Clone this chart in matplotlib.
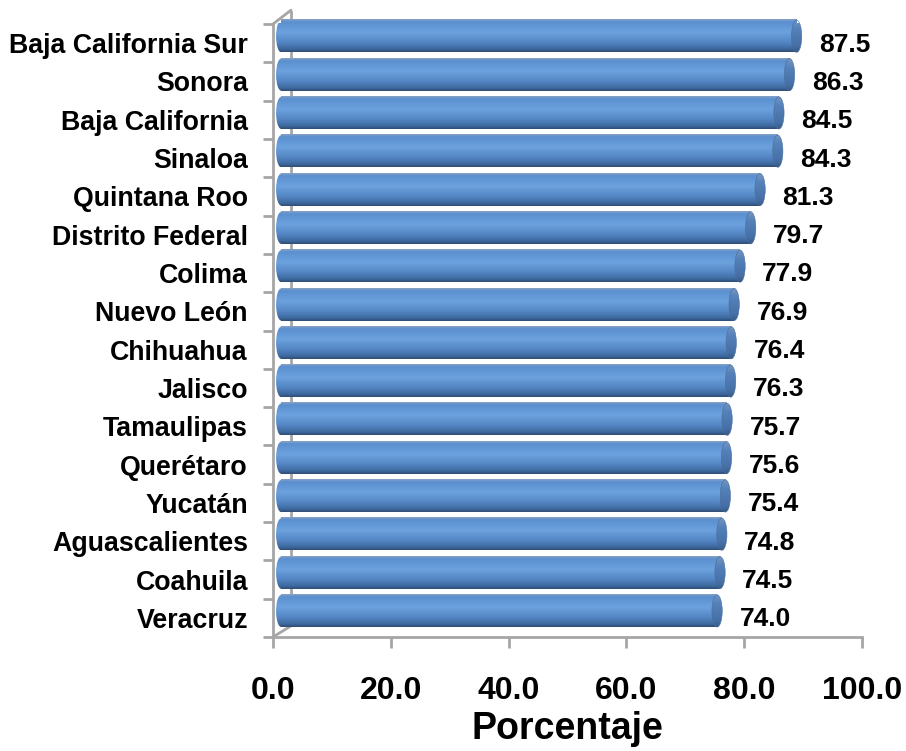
import numpy as np
import matplotlib.pyplot as plt
from matplotlib.colors import LinearSegmentedColormap
from matplotlib.patches import Ellipse
from matplotlib.transforms import ScaledTranslation

# Data (top to bottom, as shown)
estados = ['Baja California Sur', 'Sonora', 'Baja California', 'Sinaloa',
           'Quintana Roo', 'Distrito Federal', 'Colima', 'Nuevo León',
           'Chihuahua', 'Jalisco', 'Tamaulipas', 'Querétaro', 'Yucatán',
           'Aguascalientes', 'Coahuila', 'Veracruz']
porcentaje = [87.5, 86.3, 84.5, 84.3, 81.3, 79.7, 77.9, 76.9,
              76.4, 76.3, 75.7, 75.6, 75.4, 74.8, 74.5, 74.0]
x_ticks = [0, 20, 40, 60, 80, 100]

plt.rcParams['font.family'] = ['Liberation Sans', 'DejaVu Sans']
plt.rcParams['font.weight'] = 'bold'

GRID = '#a6a6a6'

# cylinder shading, top -> bottom
body_cmap = LinearSegmentedColormap.from_list('body', [
    (0.0, '#8aa3c4'), (0.08, '#5b8fcf'), (0.4, '#6ca2de'),
    (0.7, '#5486c4'), (0.9, '#3f6aa0'), (1.0, '#2f4d75')])
cap_cmap = LinearSegmentedColormap.from_list('cap', [
    (0.0, '#7797c0'), (0.3, '#5481ba'), (0.8, '#4670a6'), (1.0, '#385a87')])
grad = np.linspace(0, 1, 256).reshape(-1, 1)

fig = plt.figure(figsize=(9.06, 7.51), dpi=100)
ax = fig.add_axes([0.3013, 0.1518, 0.6501, 0.8162])

ax.set_xlim(0, 100)
ax.set_ylim(len(estados) - 0.5, -0.5)

depth_x = 1.4      # 3D depth shift of the bars (data units)
depth_y = 0.18     # rows
bar_h = 0.84
cap_w = 1.75

for i, v in enumerate(porcentaje):
    c = i - depth_y
    x0, x1 = depth_x, v + depth_x
    ext = (x0, x1, c + bar_h / 2, c - bar_h / 2)
    im = ax.imshow(grad, cmap=body_cmap, aspect='auto', extent=ext,
                   interpolation='bilinear', zorder=3)
    im.set_clip_on(False)
    # rounded left end
    left = Ellipse((x0, c), cap_w, bar_h, transform=ax.transData)
    im = ax.imshow(grad, cmap=body_cmap, aspect='auto',
                   extent=(x0 - cap_w / 2, x0 + cap_w / 2, c + bar_h / 2, c - bar_h / 2),
                   interpolation='bilinear', zorder=3)
    im.set_clip_path(left)
    im.set_clip_box(None)
    # flat right end
    right = Ellipse((x1, c), cap_w, bar_h, transform=ax.transData)
    im = ax.imshow(grad, cmap=cap_cmap, aspect='auto',
                   extent=(x1 - cap_w / 2, x1 + cap_w / 2, c + bar_h / 2, c - bar_h / 2),
                   interpolation='bilinear', zorder=4)
    im.set_clip_path(right)
    im.set_clip_box(None)
    ax.add_patch(Ellipse((x1, c), cap_w, bar_h, fill=False, clip_on=False,
                         edgecolor='#4a6e9c', lw=0.4, zorder=4))

    ax.annotate(f'{v:.1f}', xy=(v, i), xytext=(22, -1), textcoords='offset points',
                ha='left', va='center', fontsize=19, fontweight='bold', color='black')

ax.set_xlim(0, 100)
ax.set_ylim(len(estados) - 0.5, -0.5)

# axes / 3D frame
for s in ['top', 'right']:
    ax.spines[s].set_visible(False)
for s in ['left', 'bottom']:
    ax.spines[s].set_color(GRID)
    ax.spines[s].set_linewidth(2)

back = dict(arrowstyle='-', color=GRID, lw=2, shrinkA=0, shrinkB=0)
ax.annotate('', xy=(0, -0.5), xytext=(13, 10), textcoords='offset points',
            arrowprops=back, zorder=1)
ax.annotate('', xy=(0, len(estados) - 0.5), xytext=(13, 8), textcoords='offset points',
            arrowprops=back, zorder=1)
wall = ax.transData + ScaledTranslation(0.18, 0.12, fig.dpi_scale_trans)
ax.plot([0, 0], [-0.5, len(estados) - 0.5], color=GRID, lw=2, zorder=1,
        clip_on=False, transform=wall)

ax.set_yticks(range(len(estados)))
ax.set_yticklabels(estados, fontsize=19.3, fontweight='bold')
ax.set_yticks(np.arange(-0.5, len(estados)), minor=True)
ax.tick_params(axis='y', which='major', length=0, pad=18)
ax.tick_params(axis='y', which='minor', length=7, width=2, color=GRID)

ax.set_xticks(x_ticks)
ax.set_xticklabels([f'{t:.1f}' for t in x_ticks], fontsize=23, fontweight='bold')
ax.tick_params(axis='x', length=8, width=2, color=GRID, pad=20)
ax.set_xlabel('Porcentaje', fontsize=27, fontweight='bold', labelpad=4)

fig.savefig('out.png', dpi=100)
